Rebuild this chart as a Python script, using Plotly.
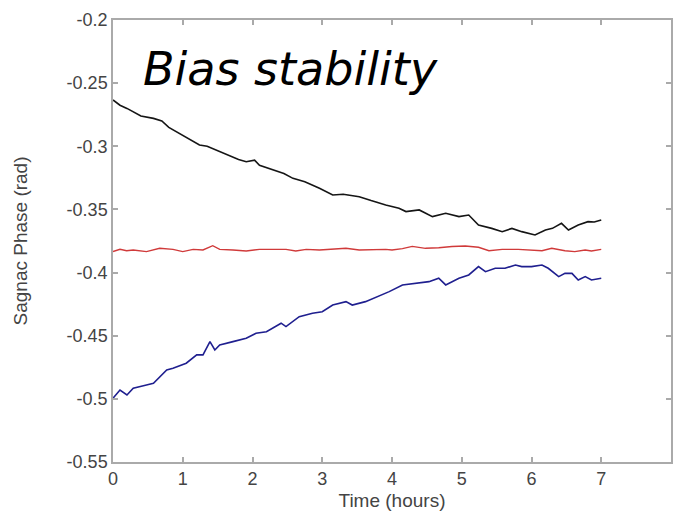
import plotly.graph_objects as go

# Black curve (upper)
black_t = [0.0, 0.1, 0.2, 0.29, 0.4, 0.58, 0.7, 0.8, 0.91, 1.05, 1.24, 1.35, 1.53, 1.65, 1.8, 1.91, 2.03, 2.1, 2.29, 2.45, 2.58, 2.75, 2.96, 3.15, 3.3, 3.53, 3.7, 3.91, 4.1, 4.2, 4.39, 4.58, 4.77, 4.96, 5.1, 5.24, 5.43, 5.58, 5.72, 5.86, 6.05, 6.2, 6.3, 6.43, 6.53, 6.67, 6.81, 6.9, 7.0]
black_v = [-0.2633, -0.2675, -0.2700, -0.2726, -0.2760, -0.2779, -0.2800, -0.2850, -0.2884, -0.2930, -0.2990, -0.3000, -0.3043, -0.3070, -0.3105, -0.3122, -0.3110, -0.3150, -0.3188, -0.3215, -0.3254, -0.3280, -0.3333, -0.3386, -0.3380, -0.3399, -0.3430, -0.3465, -0.3490, -0.3517, -0.3504, -0.3557, -0.3530, -0.3557, -0.3544, -0.3623, -0.3650, -0.3676, -0.3650, -0.3676, -0.3702, -0.3663, -0.3650, -0.3610, -0.3663, -0.3623, -0.3597, -0.3600, -0.3584]

# Red curve (middle, stable)
red_t = [0.0, 0.1, 0.195, 0.29, 0.48, 0.67, 0.86, 1.0, 1.15, 1.29, 1.43, 1.53, 1.72, 1.91, 2.1, 2.29, 2.48, 2.62, 2.77, 2.96, 3.15, 3.34, 3.53, 3.72, 3.91, 4.0, 4.15, 4.29, 4.48, 4.67, 4.86, 5.05, 5.24, 5.39, 5.58, 5.81, 6.0, 6.15, 6.29, 6.48, 6.62, 6.77, 6.86, 7.0]
red_v = [-0.3834, -0.3816, -0.3827, -0.3821, -0.3834, -0.3808, -0.3816, -0.3834, -0.3816, -0.3821, -0.3787, -0.3816, -0.3821, -0.3829, -0.3816, -0.3816, -0.3816, -0.3829, -0.3816, -0.3821, -0.3816, -0.3808, -0.3821, -0.3816, -0.3816, -0.3821, -0.3810, -0.3793, -0.3808, -0.3803, -0.3793, -0.3789, -0.3800, -0.3827, -0.3816, -0.3816, -0.3821, -0.3827, -0.3808, -0.3827, -0.3834, -0.3821, -0.3829, -0.3816]

# Blue curve (lower)
blue_t = [0.0, 0.1, 0.2, 0.29, 0.48, 0.58, 0.77, 0.86, 1.05, 1.2, 1.29, 1.39, 1.46, 1.53, 1.72, 1.91, 2.05, 2.2, 2.41, 2.48, 2.67, 2.86, 3.0, 3.15, 3.34, 3.43, 3.62, 3.81, 3.96, 4.15, 4.34, 4.53, 4.67, 4.77, 4.96, 5.1, 5.24, 5.34, 5.48, 5.62, 5.77, 5.86, 6.0, 6.15, 6.24, 6.39, 6.48, 6.58, 6.67, 6.77, 6.86, 7.0]
blue_v = [-0.4995, -0.4930, -0.4969, -0.4916, -0.4890, -0.4877, -0.4771, -0.4758, -0.4718, -0.4652, -0.4652, -0.4547, -0.4613, -0.4573, -0.4547, -0.4520, -0.4481, -0.4468, -0.4401, -0.4428, -0.4349, -0.4322, -0.4310, -0.4257, -0.4230, -0.4257, -0.4230, -0.4184, -0.4151, -0.4098, -0.4085, -0.4072, -0.4045, -0.4098, -0.4045, -0.4019, -0.3953, -0.3993, -0.3966, -0.3966, -0.3940, -0.3953, -0.3953, -0.3940, -0.3966, -0.4032, -0.4006, -0.4006, -0.4059, -0.4032, -0.4059, -0.4045]

x_ticks = [0, 1, 2, 3, 4, 5, 6, 7, 8]
x_labels = ["0", "1", "2", "3", "4", "5", "6", "7", "8"]
y_ticks = [-0.55, -0.5, -0.45, -0.4, -0.35, -0.3, -0.25, -0.2]
y_labels = ["-0.55", "-0.5", "-0.45", "-0.4", "-0.35", "-0.3", "-0.25", "-0.2"]

fig = go.Figure()
fig.add_trace(go.Scatter(x=black_t, y=black_v, mode="lines",
                         line=dict(color="#151515", width=1.6), showlegend=False))
fig.add_trace(go.Scatter(x=red_t, y=red_v, mode="lines",
                         line=dict(color="#d03a3a", width=1.4), showlegend=False))
fig.add_trace(go.Scatter(x=blue_t, y=blue_v, mode="lines",
                         line=dict(color="#1f1f8f", width=1.6), showlegend=False))

axis_common = dict(showgrid=False, zeroline=False, showline=True, linecolor="#aaaaaa",
                   linewidth=1.5, mirror="ticks", ticks="inside", ticklen=5,
                   tickcolor="#aaaaaa", tickwidth=1.5,
                   tickfont=dict(family="Liberation Sans, Arial", size=18, color="#444444"))

fig.update_xaxes(range=[0, 8], tickvals=x_ticks, ticktext=x_labels,
                 title=dict(text="Time (hours)", standoff=5,
                            font=dict(family="Liberation Sans, Arial", size=19, color="#444444")),
                 **axis_common)
fig.update_yaxes(range=[-0.55, -0.2], tickvals=y_ticks, ticktext=y_labels,
                 title=dict(text="Sagnac Phase (rad)", standoff=34,
                            font=dict(family="Liberation Sans, Arial", size=19, color="#444444")),
                 **axis_common)

fig.add_annotation(text="<i>Bias stability</i>", xref="paper", yref="paper",
                   x=0.05, y=0.89, xanchor="left", yanchor="middle", showarrow=False,
                   font=dict(family="DejaVu Sans", size=46, color="#000000", weight=300))

fig.update_layout(width=674, height=511, margin=dict(l=113, r=1, t=20, b=49),
                  plot_bgcolor="white", paper_bgcolor="white")

fig.write_html("out.html")
